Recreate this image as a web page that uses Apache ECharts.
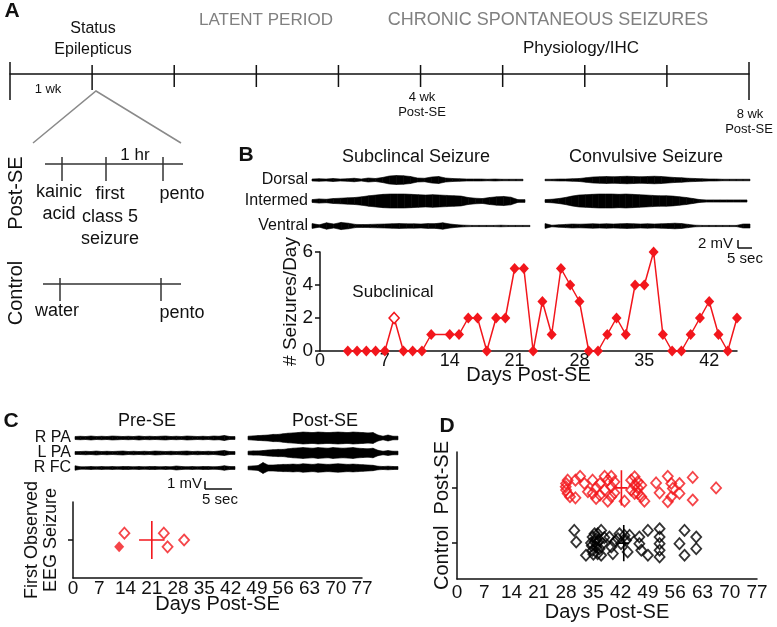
<!DOCTYPE html>
<html><head><meta charset="utf-8">
<script src="https://cdn.jsdelivr.net/npm/echarts@6/dist/echarts.min.js"></script>
<style>html,body{margin:0;padding:0;background:#fff}#c{width:777px;height:627px}</style>
</head><body><div id="c"></div>
<script>
// ---------- Panel A timeline ----------
const tlWeeks = [-1, 0, 1, 2, 3, 4, 5, 6, 7, 8];

// ---------- Panel B: seizures per day ----------
const bDays   = [3,4,5,6,7,8,9,10,11,12,14,15,16,17,18,19,20,21,22,23,24,25,26,27,28,29,30,31,32,33,34,35,36,37,38,39,40,41,42,43,44,45];
const bCounts = [0,0,0,0,0,2,0,0,0,1, 1,1,2,2,0,2,2,5,5,0,3,1,5,4,3,0,0,1,2,1,4,4,6,1,0,0,1,2,3,1,0,2];
const bSubclinicalDay = 8;
const bXTicks = [0,7,14,21,28,35,42];
const bYTicks = [0,2,4,6];

// EEG envelopes (relative amplitude) panel B
const bSubDorsal   = [0.2,0.25,0.2,0.3,0.2,0.25,0.35,0.2,0.4,0.3,0.5,0.8,0.9,0.85,0.7,0.4,0.35,0.6,0.7,0.4,0.3,0.25,0.2,0.2,0.2,0.15,0.2,0.15,0.15,0.15];
const bSubInter    = [0.2,0.3,0.25,0.35,0.4,0.45,0.5,0.6,0.75,0.85,0.95,1.0,1.0,1.0,0.95,0.9,0.85,0.9,0.85,0.8,0.75,0.7,0.5,0.4,0.35,0.5,0.6,0.65,0.55,0.2];
const bSubVentral  = [0.6,0.3,0.8,0.5,0.9,0.7,0.4,0.35,0.4,0.45,0.5,0.55,0.6,0.55,0.55,0.5,0.6,0.6,0.8,0.5,0.3,0.2,0.15,0.15,0.15,0.15,0.2,0.15,0.15,0.15];
const bConDorsal   = [0.15,0.15,0.2,0.2,0.25,0.3,0.45,0.6,0.65,0.7,0.65,0.7,0.75,0.7,0.65,0.7,0.75,0.7,0.6,0.5,0.45,0.35,0.3,0.25,0.2,0.2,0.15,0.15,0.15,0.15];
const bConInter    = [0.2,0.25,0.35,0.5,0.7,0.85,0.9,0.95,1.0,1.0,1.0,0.95,1.0,0.95,0.9,0.85,0.8,0.75,0.75,0.7,0.6,0.5,0.35,0.2,0.15,0.15,0.15,0.15,0.15,0.15];
const bConVentral  = [0.6,0.2,0.3,0.4,0.5,0.45,0.5,0.55,0.5,0.55,0.5,0.55,0.6,0.55,0.5,0.55,0.5,0.55,0.6,0.7,0.6,0.4,0.2,0.15,0.15,0.15,0.15,0.15,0.15,0.5];

// EEG envelopes panel C
const cPreRPA  = [0.3,0.35,0.3,0.4,0.3,0.35,0.3,0.4,0.35,0.3,0.35,0.3,0.4,0.3,0.35,0.3,0.35,0.4,0.3,0.35,0.3,0.4,0.35,0.3,0.35,0.3,0.4,0.35,0.5,0.3];
const cPreLPA  = [0.3,0.3,0.35,0.3,0.4,0.3,0.35,0.3,0.35,0.4,0.3,0.35,0.3,0.35,0.3,0.4,0.35,0.3,0.35,0.3,0.35,0.4,0.3,0.35,0.3,0.35,0.3,0.4,0.5,0.3];
const cPreRFC  = [0.45,0.25,0.25,0.3,0.25,0.3,0.25,0.3,0.25,0.3,0.3,0.25,0.3,0.25,0.3,0.3,0.25,0.3,0.25,0.4,0.3,0.25,0.3,0.25,0.3,0.3,0.25,0.3,0.45,0.3];
const cPostRPA = [0.3,0.35,0.4,0.45,0.5,0.6,0.6,0.7,0.8,0.85,0.9,1.0,0.95,0.9,1.0,0.95,0.9,0.95,1.0,0.95,0.9,1.0,0.95,0.9,0.85,0.9,0.5,0.3,0.5,0.3];
const cPostLPA = [0.3,0.35,0.35,0.4,0.5,0.55,0.6,0.6,0.7,0.8,0.85,0.9,0.85,0.8,0.9,0.85,0.8,0.9,0.85,0.8,0.85,0.9,0.8,0.75,0.7,0.8,0.45,0.3,0.4,0.3];
const cPostRFC = [0.3,0.35,0.4,0.9,0.5,0.5,0.55,0.6,0.6,0.65,0.6,0.7,0.65,0.6,0.7,0.65,0.6,0.65,0.7,0.65,0.6,0.65,0.6,0.55,0.5,0.45,0.3,0.25,0.3,0.25];

// ---------- Panel C: first observed EEG seizure ----------
const cDaysFilled = [12.3];
const cLevelFilled = [0.82];
const cDaysOpen  = [13.7, 24.2, 25.2, 29.6];
const cLevelOpen = [1.18, 1.18, 0.82, 1.0];
const cMean = 21.0, cSem = 3.4;
const cXTicks = [0,7,14,21,28,35,42,49,56,63,70,77];

// ---------- Panel D: seizure onset, Post-SE (red) & Control (black) ----------
const dPostDays = [28.4,28.0,27.9,28.0,28.4,29.0,30.4,30.4,31.6,32.7,33.6,34.8,34.8,35.7,35.7,36.7,36.7,37.9,37.9,38.7,38.7,39.6,39.6,39.6,40.4,40.4,43.0,44.7,44.7,45.6,45.6,45.6,46.4,46.4,46.4,47.3,47.3,48.1,51.1,52.0,54.1,54.1,55.0,55.0,55.4,57.1,57.1,60.5,60.5,66.5];
const dPostJit  = [0.14,0.08,0.02,-0.04,-0.10,-0.16,0.14,-0.18,0.21,0.08,-0.07,0.14,-0.10,0.00,-0.19,0.08,-0.13,0.21,-0.04,0.14,-0.24,0.21,0.02,-0.16,0.11,-0.09,-0.24,0.14,-0.04,0.20,0.05,-0.10,0.11,0.00,-0.10,0.05,-0.16,-0.24,0.09,-0.09,0.21,-0.25,0.08,-0.16,-0.01,0.08,-0.10,0.19,-0.22,0.00];
const dCtrlDays = [30.1,30.6,33.1,34.4,34.8,34.8,35.3,35.3,35.7,35.7,36.1,36.1,36.6,36.6,37.0,37.0,37.4,35.0,36.0,34.6,37.8,39.1,39.6,40.0,40.4,41.3,41.7,42.1,43.0,43.4,43.8,44.3,46.8,46.8,47.3,49.0,49.0,52.0,52.0,52.0,52.0,52.0,57.1,58.4,58.4,61.4,61.4];
const dCtrlJit  = [0.23,0.02,-0.22,0.00,0.11,-0.13,0.02,0.17,-0.07,0.08,0.17,-0.19,0.05,-0.10,0.23,-0.22,-0.01,-0.20,0.00,-0.05,0.10,0.11,-0.07,-0.19,0.02,0.08,0.17,-0.01,0.14,0.05,-0.16,0.14,0.11,-0.01,-0.13,0.23,-0.22,0.26,0.11,-0.01,-0.13,-0.25,-0.01,0.23,-0.22,0.11,-0.10];
const dPostMean = 42.2, dPostSem = 1.5;
const dCtrlMean = 42.8, dCtrlSem = 1.3;
const dGroups = ['Control', 'Post-SE'];

const RED = '#f2161c';
const FONT = 'Liberation Sans, Arial, sans-serif';

const chart = echarts.init(document.getElementById('c'), null, {renderer: 'canvas'});

const grids = [], xAxes = [], yAxes = [], series = [];
function addGrid(g, xa, ya) {
  grids.push(g);
  const gi = grids.length - 1;
  xAxes.push(Object.assign({gridIndex: gi}, xa));
  yAxes.push(Object.assign({gridIndex: gi}, ya));
  return gi;
}

// ----- Timeline grid (A) -----
const tlG = addGrid({left: 10, width: 739, top: 62, height: 38},
  {type: 'value', min: -1, max: 8, interval: 1, axisLine: {show: true, onZero: true, lineStyle: {color: '#111', width: 1.5}}, axisTick: {show: false}, axisLabel: {show: false}, splitLine: {show: false}},
  {type: 'value', min: -26, max: 12, show: false});
series.push({
  type: 'custom', xAxisIndex: tlG, yAxisIndex: tlG, silent: true,
  data: tlWeeks.map(w => [w]),
  renderItem: (p, api) => {
    const w = api.value(0);
    let top = 9, bot = -13;
    if (w === tlWeeks[0] || w === tlWeeks[tlWeeks.length - 1]) { top = 12; bot = -26; }
    else if (w === 0) { bot = -16; }
    const a = api.coord([w, top]), b = api.coord([w, bot]);
    return {type: 'line', shape: {x1: a[0], y1: a[1], x2: b[0], y2: b[1]}, style: {stroke: '#111', lineWidth: 1.5}};
  }
});

// ----- EEG trace grids -----
function trace(arr, left, right, yc, half) {
  const gi = addGrid({left: left, width: right - left, top: yc - half, height: 2 * half},
    {type: 'value', min: 0, max: arr.length, show: false},
    {type: 'value', min: -1, max: 1, show: false});
  series.push({
    type: 'custom', xAxisIndex: gi, yAxisIndex: gi, silent: true,
    data: arr.map((a, i) => [i, a]),
    renderItem: (p, api) => {
      const i = p.dataIndex;
      const a0 = arr[i], a1 = i + 1 < arr.length ? arr[i + 1] : arr[i];
      const pts = [api.coord([i, a0]), api.coord([i + 1, a1]), api.coord([i + 1, -a1]), api.coord([i, -a0])];
      return {type: 'polygon', shape: {points: pts}, style: {fill: '#000', stroke: '#000', lineWidth: 0.6}};
    }
  });
}
trace(bSubDorsal, 312, 523, 180, 5);
trace(bSubInter, 312, 525, 201, 7);
trace(bSubVentral, 312, 530, 226, 4);
trace(bConDorsal, 545, 750, 180, 5);
trace(bConInter, 545, 747, 201, 7);
trace(bConVentral, 545, 750, 226, 4);
trace(cPreRPA, 75, 235, 438, 5);
trace(cPreLPA, 75, 235, 453, 5);
trace(cPreRFC, 75, 235, 468, 5);
trace(cPostRPA, 248, 398, 438, 6);
trace(cPostLPA, 248, 398, 453, 6);
trace(cPostRFC, 248, 398, 468, 6);

// ----- Panel B chart -----
const axisLineStyle = {show: true, lineStyle: {color: '#111', width: 1.5}};
const bG = addGrid({left: 320, width: 417, top: 252, height: 99},
  {type: 'value', min: 0, max: 45, interval: 7, axisLine: Object.assign({onZero: false}, axisLineStyle), axisTick: {show: false},
   axisLabel: {customValues: bXTicks, color: '#111', fontSize: 18, fontFamily: FONT, margin: 1},
   splitLine: {show: false}, name: 'Days Post-SE', nameLocation: 'middle', nameGap: 14, nameMoveOverlap: false,
   nameTextStyle: {color: '#111', fontSize: 20, fontFamily: FONT, verticalAlign: 'top'}},
  {type: 'value', min: 0, max: 6, interval: 2, axisLine: axisLineStyle, axisTick: {show: true, length: 5, lineStyle: {color: '#111', width: 1.5}},
   axisLabel: {customValues: bYTicks, color: '#111', fontSize: 19, fontFamily: FONT, margin: 7},
   splitLine: {show: false}, name: '# Seizures/Day', nameLocation: 'middle', nameGap: 20, nameRotate: 90, nameMoveOverlap: false,
   nameTextStyle: {color: '#111', fontSize: 19, fontFamily: FONT}});
series.push({
  type: 'line', xAxisIndex: bG, yAxisIndex: bG, symbol: 'diamond', symbolSize: [10, 11], silent: true,
  lineStyle: {color: RED, width: 1.5}, itemStyle: {color: RED},
  data: bDays.map((d, i) => d === bSubclinicalDay
    ? {value: [d, bCounts[i]], itemStyle: {color: '#fff', borderColor: RED, borderWidth: 1.6}}
    : [d, bCounts[i]])
});

// ----- Panel C chart -----
const cG = addGrid({left: 73, width: 289, top: 502, height: 76},
  {type: 'value', min: 0, max: 77, interval: 7, axisLine: Object.assign({onZero: false}, axisLineStyle), axisTick: {show: false},
   axisLabel: {customValues: cXTicks, color: '#111', fontSize: 19, fontFamily: FONT, margin: 1},
   splitLine: {show: false}, name: 'Days Post-SE', nameLocation: 'middle', nameGap: 16, nameMoveOverlap: false,
   nameTextStyle: {color: '#111', fontSize: 20, fontFamily: FONT, verticalAlign: 'top'}},
  {type: 'value', min: 0, max: 2, axisLine: axisLineStyle, axisTick: {show: true, customValues: [1], length: 5, lineStyle: {color: '#111', width: 1.5}},
   axisLabel: {show: false}, splitLine: {show: false},
   name: 'First Observed\nEEG Seizure', nameLocation: 'middle', nameGap: 12, nameRotate: 90, nameMoveOverlap: false,
   nameTextStyle: {color: '#111', fontSize: 18, fontFamily: FONT, lineHeight: 19}});
series.push({type: 'scatter', xAxisIndex: cG, yAxisIndex: cG, symbol: 'diamond', symbolSize: [10, 11], silent: true,
  itemStyle: {color: RED}, data: cDaysFilled.map((d, i) => [d, cLevelFilled[i]])});
series.push({type: 'scatter', xAxisIndex: cG, yAxisIndex: cG, symbol: 'diamond', symbolSize: [10, 11], silent: true,
  itemStyle: {color: 'rgba(0,0,0,0)', borderColor: RED, borderWidth: 1.8}, data: cDaysOpen.map((d, i) => [d, cLevelOpen[i]])});
function meanCross(gi, mean, sem, level, halfH, color) {
  series.push({type: 'line', xAxisIndex: gi, yAxisIndex: gi, symbol: 'none', silent: true, lineStyle: {color: color, width: 1.6},
    data: [[mean - sem, level], [mean + sem, level]]});
  series.push({type: 'line', xAxisIndex: gi, yAxisIndex: gi, symbol: 'none', silent: true, lineStyle: {color: color, width: 1.6},
    data: [[mean, level - halfH], [mean, level + halfH]]});
}
meanCross(cG, cMean, cSem, 1, 0.5, RED);

// ----- Panel D chart -----
const dG = addGrid({left: 457, width: 300, top: 452, height: 127},
  {type: 'value', min: 0, max: 77, interval: 7, axisLine: Object.assign({onZero: false}, axisLineStyle), axisTick: {show: false},
   axisLabel: {customValues: cXTicks, color: '#111', fontSize: 19, fontFamily: FONT, margin: 4},
   splitLine: {show: false}, name: 'Days Post-SE', nameLocation: 'middle', nameGap: 23, nameMoveOverlap: false,
   nameTextStyle: {color: '#111', fontSize: 20, fontFamily: FONT, verticalAlign: 'top'}},
  {type: 'value', min: 0.35, max: 2.65, axisLine: axisLineStyle, axisTick: {show: true, customValues: [1, 2], length: 5, lineStyle: {color: '#111', width: 1.5}},
   axisLabel: {show: false}, splitLine: {show: false},
   name: dGroups[0] + '  ' + dGroups[1], nameLocation: 'middle', nameGap: 5, nameRotate: 90, nameMoveOverlap: false,
   nameTextStyle: {color: '#111', fontSize: 20, fontFamily: FONT}});
series.push({type: 'scatter', xAxisIndex: dG, yAxisIndex: dG, symbol: 'diamond', symbolSize: [10, 11], silent: true,
  itemStyle: {color: 'rgba(0,0,0,0)', borderColor: '#000', borderWidth: 1.8}, data: dCtrlDays.map((d, i) => [d, 1 + dCtrlJit[i]])});
series.push({type: 'scatter', xAxisIndex: dG, yAxisIndex: dG, symbol: 'diamond', symbolSize: [10, 11], silent: true,
  itemStyle: {color: 'rgba(0,0,0,0)', borderColor: RED, borderWidth: 1.8}, data: dPostDays.map((d, i) => [d, 2 + dPostJit[i]])});
meanCross(dG, dPostMean, dPostSem, 2, 0.32, RED);
meanCross(dG, dCtrlMean, dCtrlSem, 1, 0.33, '#000');

// ----- Graphic texts & schematic -----
function txt(s, x, y, o) {
  return {type: 'text', silent: true, style: Object.assign({text: s, x: x, y: y, fill: '#111', font: '16px ' + FONT, align: 'center', verticalAlign: 'middle'}, o || {})};
}
function rtxt(s, x, y, size) {
  return {type: 'text', silent: true, x: x, y: y, rotation: Math.PI / 2,
    style: {text: s, x: 0, y: 0, font: size + 'px ' + FONT, fill: '#111', align: 'center', verticalAlign: 'middle'}};
}
function ln(x1, y1, x2, y2, col, w) {
  return {type: 'line', silent: true, shape: {x1, y1, x2, y2}, style: {stroke: col || '#333', lineWidth: w || 1.5}};
}
const G = [];
const bold = f => 'bold ' + f + 'px ' + FONT;
const reg = f => f + 'px ' + FONT;
G.push(txt('A', 12, 11, {font: bold(21)}));
G.push(txt('B', 246, 155, {font: bold(21)}));
G.push(txt('C', 11, 421, {font: bold(21)}));
G.push(txt('D', 447, 426, {font: bold(21)}));
// A top texts
G.push(txt('Status', 93, 29, {font: reg(16)}));
G.push(txt('Epilepticus', 93, 50, {font: reg(16)}));
G.push(txt('LATENT PERIOD', 266, 20, {font: reg(17), fill: '#808080'}));
G.push(txt('CHRONIC SPONTANEOUS SEIZURES', 548, 20, {font: reg(18), fill: '#808080'}));
G.push(txt('Physiology/IHC', 581, 48, {font: reg(17)}));
G.push(txt('1 wk', 48, 89, {font: reg(13)}));
G.push(txt('4 wk', 422, 97, {font: reg(13)}));
G.push(txt('Post-SE', 422, 112, {font: reg(13)}));
G.push(txt('8 wk', 750, 114, {font: reg(13)}));
G.push(txt('Post-SE', 749, 129, {font: reg(13)}));
// triangle
G.push({type: 'polyline', silent: true, shape: {points: [[33, 143], [96, 91], [181, 143]]}, style: {stroke: '#8a8a8a', lineWidth: 1.5, fill: null}});
// Post-SE sub timeline
G.push(ln(45, 164, 183, 164));
G.push(ln(62, 157, 62, 181));
G.push(ln(106, 157, 106, 181));
G.push(ln(163, 157, 163, 181));
G.push(txt('1 hr', 135, 155, {font: reg(17)}));
G.push(txt('kainic', 59, 192, {font: reg(18)}));
G.push(txt('acid', 59, 214, {font: reg(18)}));
G.push(txt('first', 110, 194, {font: reg(18)}));
G.push(txt('class 5', 110, 217, {font: reg(18)}));
G.push(txt('seizure', 110, 239, {font: reg(18)}));
G.push(txt('pento', 182, 194, {font: reg(18)}));
G.push(rtxt('Post-SE', 16, 193, 20));
// Control sub timeline
G.push(ln(43, 284, 181, 284));
G.push(ln(60, 278, 60, 301));
G.push(ln(161, 278, 161, 301));
G.push(txt('water', 57, 311, {font: reg(18)}));
G.push(txt('pento', 182, 313, {font: reg(18)}));
G.push(rtxt('Control', 16, 293, 20));
// B texts
G.push(txt('Subclincal Seizure', 416, 157, {font: reg(18)}));
G.push(txt('Convulsive Seizure', 646, 157, {font: reg(18)}));
G.push(txt('Dorsal', 308, 180, {font: reg(16), align: 'right'}));
G.push(txt('Intermed', 308, 201, {font: reg(16), align: 'right'}));
G.push(txt('Ventral', 308, 226, {font: reg(16), align: 'right'}));
G.push(txt('Subclinical', 393, 292, {font: reg(17)}));
G.push(txt('2 mV', 733, 244, {font: reg(15), align: 'right'}));
G.push(ln(738, 240, 738, 248, '#111', 1.5));
G.push(ln(738, 248, 752, 248, '#111', 1.5));
G.push(txt('5 sec', 745, 259, {font: reg(15)}));
// C texts
G.push(txt('Pre-SE', 147, 421, {font: reg(18)}));
G.push(txt('Post-SE', 325, 421, {font: reg(18)}));
G.push(txt('R PA', 71, 438, {font: reg(16), align: 'right'}));
G.push(txt('L PA', 71, 453, {font: reg(16), align: 'right'}));
G.push(txt('R FC', 71, 468, {font: reg(16), align: 'right'}));
G.push(txt('1 mV', 202, 484, {font: reg(15), align: 'right'}));
G.push(ln(205, 481, 205, 489, '#111', 1.5));
G.push(ln(205, 489, 232, 489, '#111', 1.5));
G.push(txt('5 sec', 220, 500, {font: reg(15)}));

chart.setOption({
  animation: false,
  backgroundColor: '#fff',
  grid: grids.map(g => Object.assign({containLabel: false}, g)),
  xAxis: xAxes,
  yAxis: yAxes,
  series: series,
  graphic: {elements: G}
});
</script></body></html>
